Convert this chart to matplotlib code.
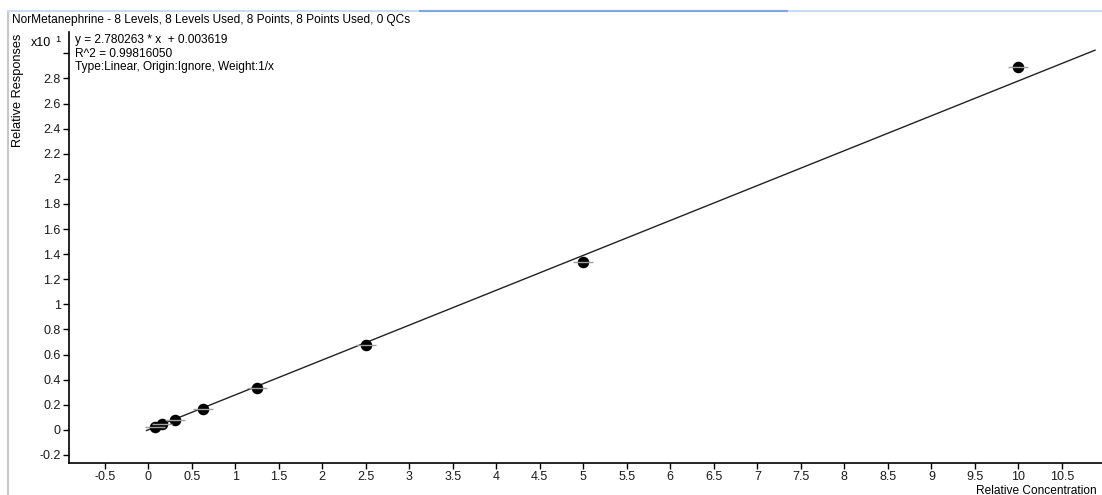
import matplotlib
matplotlib.use("Agg")
import matplotlib.pyplot as plt
from matplotlib.lines import Line2D
import numpy as np

plt.rcParams['font.family'] = ['Liberation Sans', 'DejaVu Sans']

# ---- data (responses shown in units of x10^1) ----
conc = [0.078125, 0.15625, 0.3125, 0.625, 1.25, 2.5, 5.0, 10.0]
resp = [0.026, 0.048, 0.080, 0.165, 0.333, 0.678, 1.341, 2.890]
slope = 2.780263
intercept = 0.003619
scale = 10.0
fit_x_range = [-0.02, 10.88]

xticks = [-0.5, 0, 0.5, 1, 1.5, 2, 2.5, 3, 3.5, 4, 4.5, 5, 5.5, 6, 6.5, 7,
          7.5, 8, 8.5, 9, 9.5, 10, 10.5]
xticklabels = ['-0.5', '0', '0.5', '1', '1.5', '2', '2.5', '3', '3.5', '4', '4.5',
               '5', '5.5', '6', '6.5', '7', '7.5', '8', '8.5', '9', '9.5', '10', '10.5']
yticks = [-0.2, 0, 0.2, 0.4, 0.6, 0.8, 1.0, 1.2, 1.4, 1.6, 1.8, 2.0, 2.2, 2.4,
          2.6, 2.8, 3.0]
yticklabels = ['-0.2', '0', '0.2', '0.4', '0.6', '0.8', '1', '1.2', '1.4', '1.6',
               '1.8', '2', '2.2', '2.4', '2.6', '2.8', '']

title = "NorMetanephrine - 8 Levels, 8 Levels Used, 8 Points, 8 Points Used, 0 QCs"
eq_lines = ["y = 2.780263 * x  + 0.003619",
            "R^2 = 0.99816050",
            "Type:Linear, Origin:Ignore, Weight:1/x"]

W, H = 1102, 495
fig = plt.figure(figsize=(W / 100, H / 100), dpi=100)
fig.patch.set_facecolor('white')

ax = fig.add_axes([69 / W, 1 - 463 / H, 1 - 69 / W, (463 - 32) / H])
ax.set_xlim(-0.91, 10.96)
ax.set_ylim(-0.264, 3.17)

for s in ['top', 'right']:
    ax.spines[s].set_visible(False)
for s in ['left', 'bottom']:
    ax.spines[s].set_color('black')
    ax.spines[s].set_linewidth(1.2)

fs = 8.6
tfs = 9.0
ax.set_xticks(xticks)
ax.set_xticklabels(xticklabels)
ax.set_yticks(yticks)
ax.set_yticklabels(yticklabels)
ax.tick_params(axis='both', direction='out', length=4, width=1, color='black',
               labelsize=tfs, labelcolor='#1a1a1a', pad=2)

# regression line
fx = np.array(fit_x_range)
fy = (slope * fx + intercept) / scale
ax.plot(fx, fy, color='#222222', lw=1.0, zorder=2)

# points
ax.plot(conc, resp, 'o', color='black', ms=7.3, zorder=3)
ax.plot(conc, resp, '_', color='#a0a0a0', ms=15, mew=1.0, zorder=4)

# texts
fig.text(12 / W, 1 - 20 / H, title, fontsize=fs, va='center', ha='left', color='black')
for i, line in enumerate(eq_lines):
    fig.text(75 / W, 1 - (40 + i * 13.7) / H, line, fontsize=fs, va='center',
             ha='left', color='black')
fig.text(31 / W, 1 - 43 / H, 'x10', fontsize=tfs, va='center', ha='left', color='black')
fig.text(55 / W, 1 - 40 / H, '1', fontsize=tfs * 0.75, va='center', ha='left', color='black')
fig.text(18 / W, 1 - 147 / H, 'Relative Responses', fontsize=9.2, rotation=90,
         va='bottom', ha='center', color='black')
fig.text(1097 / W, 1 - 491 / H, 'Relative Concentration', fontsize=fs,
         va='center', ha='right', color='black')

# window decorations
fig.add_artist(Line2D([8 / W, 8 / W], [0, 1 - 11 / H], transform=fig.transFigure,
                      color='#c8c8c8', lw=1.5))
fig.add_artist(Line2D([8 / W, 1], [1 - 10.5 / H, 1 - 10.5 / H], transform=fig.transFigure,
                      color='#c9dcf3', lw=1.5))
fig.add_artist(Line2D([420 / W, 787 / W], [1 - 10.5 / H, 1 - 10.5 / H],
                      transform=fig.transFigure, color='#7ea6df', lw=1.5))

fig.savefig('out.png', dpi=100)
